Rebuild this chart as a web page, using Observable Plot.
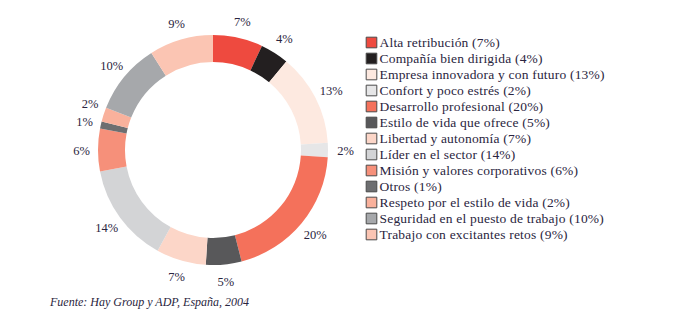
<!DOCTYPE html>
<html><head><meta charset="utf-8">
<script src="https://cdn.jsdelivr.net/npm/d3@7"></script>
<script src="https://cdn.jsdelivr.net/npm/@observablehq/plot@0.6"></script>
<style>
body{margin:0;background:#fff;}
#wrap{position:relative;width:690px;height:326px;overflow:hidden;font-family:"Liberation Serif","DejaVu Serif",serif;}
#donut{position:absolute;left:0;top:0;}
#legend{position:absolute;left:360px;top:28px;}
#legend text{letter-spacing:0.2px;}
#caption{position:absolute;left:50px;top:295px;font-style:italic;font-size:12px;color:#2a2540;white-space:nowrap;}
</style></head><body>
<div id="wrap"><div id="donut"></div><div id="legend"></div><div id="caption"></div></div>
<script>
const categories = [
  "Alta retribución", "Compañía bien dirigida", "Empresa innovadora y con futuro",
  "Confort y poco estrés", "Desarrollo profesional", "Estilo de vida que ofrece",
  "Libertad y autonomía", "Líder en el sector", "Misión y valores corporativos",
  "Otros", "Respeto por el estilo de vida", "Seguridad en el puesto de trabajo",
  "Trabajo con excitantes retos"
];
const values = [7, 4, 13, 2, 20, 5, 7, 14, 6, 1, 2, 10, 9];
const colors = [
  "#ee4a3f", "#231f20", "#fde9e0", "#e6e6e7", "#f4715b", "#58585a",
  "#fcd6c8", "#d3d4d6", "#f6907a", "#6d6e70", "#f9b19c", "#a6a8ab", "#fbc5b3"
];
const caption = "Fuente: Hay Group y ADP, España, 2004";

const data = categories.map((category, i) => ({category, value: values[i]}));
const pieData = d3.pie().sort(null).value(d => d.value)(data);
const slices = pieData.map(p => ({
  category: p.data.category,
  value: p.data.value,
  start: p.startAngle,
  end: p.endAngle,
  mid: (p.startAngle + p.endAngle) / 2
}));

const R_OUT = 115, R_IN = 88, R_LABEL = 132;
const colorScale = {domain: categories, range: colors};
const inkColor = "#2a2540";
const crowded = d => d.category === "Respeto por el estilo de vida";

function donutArcs(index, scales) {
  const cx = scales.x(0), cy = scales.y(0);
  const ro = Math.abs(scales.x(R_OUT) - cx), ri = Math.abs(scales.x(R_IN) - cx);
  const arc = d3.arc().innerRadius(ri).outerRadius(ro);
  const g = d3.create("svg:g").attr("transform", `translate(${cx},${cy})`);
  g.selectAll("path").data(slices).join("path")
    .attr("d", d => arc({startAngle: d.start, endAngle: d.end}))
    .attr("fill", d => scales.color(d.category));
  return g.node();
}

const labelOpts = (filter, dy, dx) => ({
  filter,
  x: d => R_LABEL * Math.sin(d.mid),
  y: d => -R_LABEL * Math.cos(d.mid),
  text: d => `${d.value}%`,
  fill: inkColor, fontSize: 12.5, dy, dx
});

const donut = Plot.plot({
  width: 360, height: 292, margin: 0,
  x: {domain: [-213, 147], range: [0, 360], axis: null},
  y: {domain: [-150, 142], range: [0, 292], axis: null},
  color: colorScale,
  style: {fontFamily: "'Liberation Serif', 'DejaVu Serif', serif", background: "transparent"},
  marks: [
    donutArcs,
    Plot.text(slices, labelOpts(d => !crowded(d), 0, 0)),
    Plot.text(slices, labelOpts(crowded, -6, 2))
  ]
});
document.getElementById("donut").appendChild(donut);

const legend = Plot.plot({
  width: 330, height: 222, margin: 0,
  x: {domain: [0, 330], range: [0, 330], axis: null},
  y: {type: "point", domain: categories, range: [11, 208], padding: 0, axis: null},
  color: colorScale,
  style: {fontFamily: "'Liberation Serif', 'DejaVu Serif', serif", background: "transparent"},
  marks: [
    Plot.dot(data, {x: () => 11, y: "category", fill: "category", symbol: "square", r: 6, stroke: "#4a4a4a", strokeWidth: 1}),
    Plot.text(data, {x: () => 19, y: "category", text: d => `${d.category} (${d.value}%)`, textAnchor: "start", fill: inkColor, fontSize: 13.5})
  ]
});
document.getElementById("legend").appendChild(legend);
document.getElementById("caption").textContent = caption;
</script>
</body></html>
